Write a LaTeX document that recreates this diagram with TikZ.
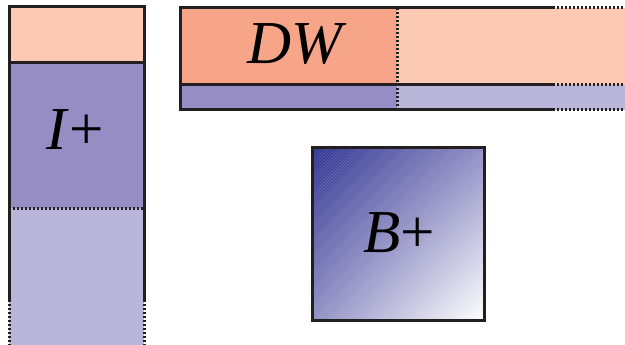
\documentclass[tikz,border=0pt]{standalone}
\usepackage{fontspec}
\setmainfont{Liberation Serif}
\usetikzlibrary{shadings}
\definecolor{peachlt}{HTML}{FCC9B3}
\definecolor{salmon}{HTML}{F7A589}
\definecolor{purpdk}{HTML}{958DC3}
\definecolor{purplt}{HTML}{BAB6DA}
\definecolor{bluedk}{HTML}{2C2F8F}
\definecolor{bluemid}{HTML}{8E8CC4}
\definecolor{edge}{HTML}{231F20}
\tikzset{
  x=1pt, y=-1pt,
  solidedge/.style={draw=edge, line width=3pt},
  dotedge/.style={draw=edge, line width=3pt, dash pattern=on 2pt off 2pt},
  hatch/.style={draw=white, line width=0.6pt, draw opacity=0.18},
  lbl/.style={font=\fontsize{61}{61}\selectfont, inner sep=0pt}
}
\begin{document}
\begin{tikzpicture}
\useasboundingbox (0,0) rectangle (625,345);

% left column: I+
\fill[peachlt] (9,7) rectangle (144,63);
\fill[purpdk] (9,63) rectangle (144,208);
\fill[purplt] (9,208) rectangle (144,345);
\coordinate (lt) at (9,7);
\coordinate (rt) at (144,7);
\coordinate (ls) at (9,300);
\coordinate (rs) at (144,300);
\coordinate (lb) at (9,345);
\coordinate (rb) at (144,345);
\coordinate (lm) at (9,63);
\coordinate (rm) at (144,63);
\coordinate (ld) at (9,208);
\coordinate (rd) at (144,208);
\draw[solidedge] (ls) -- (lt) -- (rt) -- (rs);
\draw[solidedge] (lm) -- (rm);
\draw[dotedge] (ld) -- (rd);
\draw[dotedge] (ls) -- (lb);
\draw[dotedge] (rs) -- (rb);
\node[lbl] (ip) at (75,130) {\textit{I}+};

% top bar: DW
\fill[peachlt] (180,8) rectangle (625,85);
\fill[salmon] (180,8) rectangle (397,85);
\fill[purplt] (180,85) rectangle (625,110);
\fill[purpdk] (180,85) rectangle (397,110);
\coordinate (a1) at (180,8);
\coordinate (a2) at (553,8);
\coordinate (a3) at (625,8);
\coordinate (b1) at (180,85);
\coordinate (b2) at (553,85);
\coordinate (b3) at (625,85);
\coordinate (c1) at (180,110);
\coordinate (c2) at (553,110);
\coordinate (c3) at (625,110);
\coordinate (v1) at (397,8);
\coordinate (v2) at (397,110);
\draw[solidedge] (a2) -- (a1) -- (c1) -- (c2);
\draw[solidedge] (b1) -- (b2);
\draw[dotedge] (a2) -- (a3);
\draw[dotedge] (b2) -- (b3);
\draw[dotedge] (c2) -- (c3);
\draw[dotedge] (v1) -- (v2);
\node[lbl] (dw) at (297,44) {\textit{DW}};

% square: B+ with diagonal gradient and faint hatching
\shade[upper left=bluedk, upper right=bluemid, lower left=bluemid, lower right=white]
  (312,148) rectangle (484,320);
\begin{scope}
  \clip (312,148) rectangle (484,320);
  \foreach \k in {0,3.2,...,360}
    \draw[hatch] (132+\k,320) -- ++(180,-180);
\end{scope}
\node[solidedge, minimum width=172pt, minimum height=172pt, inner sep=0pt] (bsq) at (398,234) {};
\node[lbl] (bp) at (399,233) {\textit{B}+};
\end{tikzpicture}
\end{document}
